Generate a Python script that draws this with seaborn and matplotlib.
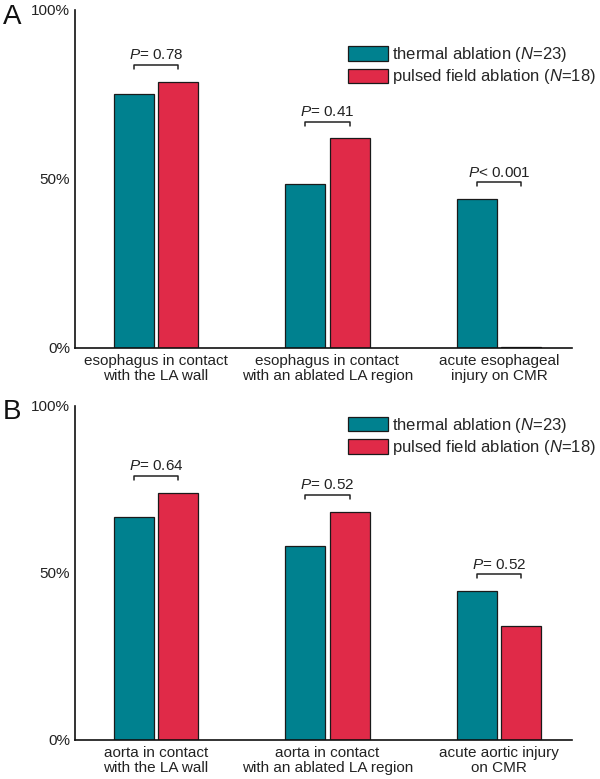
import pandas as pd
import seaborn as sns
import matplotlib
matplotlib.use('Agg')
import matplotlib.pyplot as plt

sns.set_style('white')
plt.rcParams['font.family'] = ['Liberation Sans', 'DejaVu Sans']
plt.rcParams['mathtext.fontset'] = 'custom'
plt.rcParams['mathtext.rm'] = 'Liberation Sans'
plt.rcParams['mathtext.it'] = 'Liberation Sans:italic'

# data (% of patients)
groups = ['thermal ablation ($N$=23)', 'pulsed field ablation ($N$=18)']
colors = ['#00818f', '#e02a48']

cats_a = ['esophagus in contact\nwith the LA wall',
          'esophagus in contact\nwith an ablated LA region',
          'acute esophageal\ninjury on CMR']
thermal_a = [75, 48.5, 44]
pfa_a = [78.7, 62, 0.4]
pvals_a = ['$P$= 0.78', '$P$= 0.41', '$P$< 0.001']

cats_b = ['aorta in contact\nwith the LA wall',
          'aorta in contact\nwith an ablated LA region',
          'acute aortic injury\non CMR']
thermal_b = [66.8, 58, 44.6]
pfa_b = [74, 68.3, 34.1]
pvals_b = ['$P$= 0.64', '$P$= 0.52', '$P$= 0.52']


def make_df(cats, thermal, pfa):
    rows = []
    for c, t, p in zip(cats, thermal, pfa):
        rows.append({'cat': c, 'group': groups[0], 'val': t})
        rows.append({'cat': c, 'group': groups[1], 'val': p})
    return pd.DataFrame(rows)


def panel(ax, cats, thermal, pfa, pvals, leg_top):
    df = make_df(cats, thermal, pfa)
    sns.barplot(data=df, x='cat', y='val', hue='group', order=cats, hue_order=groups,
                palette=colors, saturation=1, width=0.52, gap=0.1, edgecolor='#1a1a1a',
                linewidth=0.9, errorbar=None, ax=ax)
    ax.set_ylim(0, 100)
    ax.set_xlim(-0.472, 2.426)
    ax.set_yticks([0, 50, 100])
    ax.set_yticklabels(['0%', '50%', '100%'])
    ax.set_xlabel('')
    ax.set_ylabel('')
    ax.tick_params(axis='both', length=0, labelsize=11, colors='#222222')
    ax.tick_params(axis='y', pad=3.6)
    ax.tick_params(axis='x', pad=4)
    for lab in ax.get_xticklabels():
        lab.set_linespacing(1.1)
    sns.despine(ax=ax)
    for s in ['left', 'bottom']:
        ax.spines[s].set_color('#111111')
        ax.spines[s].set_linewidth(1.2)

    # P-value brackets
    c0, c1 = ax.containers[0], ax.containers[1]
    for i, txt in enumerate(pvals):
        x0 = c0[i].get_x() + c0[i].get_width() / 2
        x1 = c1[i].get_x() + c1[i].get_width() / 2
        y = max(thermal[i], pfa[i]) + 5
        ax.plot([x0, x0, x1, x1], [y - 1.2, y, y, y - 1.2], color='#222222', lw=1.1,
                clip_on=False)
        ax.text((x0 + x1) / 2, y + 0.8, txt, ha='center', va='bottom', fontsize=11,
                color='#222222')

    ax.legend(loc='upper left', bbox_to_anchor=(0.549, leg_top), frameon=False,
              fontsize=12, borderpad=0, handlelength=2.4, handleheight=0.95,
              handletextpad=0.25, labelspacing=0.2, borderaxespad=0)


fig = plt.figure(figsize=(6, 7.79), dpi=100)
ax_a = fig.add_axes([0.125, 0.5533, 0.8283, 0.4339])
ax_b = fig.add_axes([0.125, 0.0501, 0.8283, 0.4288])

panel(ax_a, cats_a, thermal_a, pfa_a, pvals_a, 0.896)
panel(ax_b, cats_b, thermal_b, pfa_b, pvals_b, 0.97)

fig.text(0.005, 1 - 24 / 779, 'A', fontsize=20, va='baseline', color='#111111')
fig.text(0.005, 1 - 419 / 779, 'B', fontsize=20, va='baseline', color='#111111')

fig.savefig('out.png', dpi=100, facecolor='white')
